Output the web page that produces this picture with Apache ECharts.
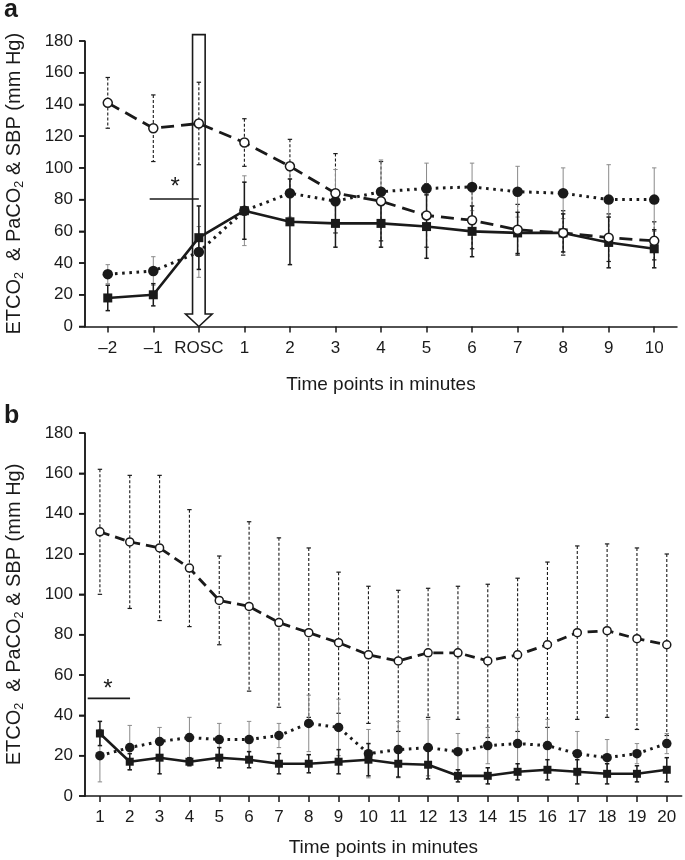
<!DOCTYPE html>
<html>
<head>
<meta charset="utf-8">
<script src="https://cdn.jsdelivr.net/npm/echarts@6.0.0/dist/echarts.min.js"></script>
<style>
html,body{margin:0;padding:0;background:#fff;}
#chart{width:685px;height:860px;}
</style>
</head>
<body>
<div id="chart"></div>
<script>
// ---------- Panel a data ----------
const catsA = ['–2','–1','ROSC','1','2','3','4','5','6','7','8','9','10'];
const sbpA = [141,125,128,116,101,84,79,70,67,61,59,56,54];
const sbpErrA = [16,21,26,15,17,25,25,20,18,16,14,15,12];
const paco2A = [33,35,47,73,84,79,85,87,88,85,84,80,80];
const paco2ErrA = [6,9,16,22,15,20,20,16,15,16,16,22,20];
const etco2A = [18,20,56,73,66,65,65,63,60,59,59,53,49];
const etco2ErrA = [8,7,20,18,27,15,15,20,16,13,12,16,12];
// annotations (panel a): significance bar [fromIndex, toIndex, value], asterisk [index, value], ROSC arrow [index, tip, top]
const sigLineA = [[0.92,2.0,80.4]];
const starA = [[1.48,87.6]];
const arrowA = [[2,0,184]];

// ---------- Panel b data ----------
const catsB = ['1','2','3','4','5','6','7','8','9','10','11','12','13','14','15','16','17','18','19','20'];
const sbpB = [131,126,123,113,97,94,86,81,76,70,67,71,71,67,70,75,81,82,78,75];
const sbpErrB = [31,33,36,29,22,42,42,42,35,34,35,32,33,38,38,41,43,43,45,45];
const paco2B = [20,24,27,29,28,28,30,36,34,21,23,24,22,25,26,25,21,19,21,26];
const paco2ErrB = [13,11,7,10,8,9,6,14,14,12,14,14,9,9,13,13,11,9,5,5];
const etco2B = [31,17,19,17,19,18,16,16,17,18,16,15.5,10,10,12,13,12,11,11,13];
const etco2ErrB = [6,4,8,2,5,4,5,4.5,6,8,6.6,7,3,4,4,5,6,5,4,6];
const sigLineB = [[-0.41,1.01,48.4]];
const starB = [[0.27,52.8]];

// y-axis tick values (both panels)
const yTicks = [0,20,40,60,80,100,120,140,160,180];

const FONT = "'Liberation Sans', Arial, sans-serif";
const INK = '#1a1a1a';

function fracCoord(api, idx, val){
  const p0 = api.coord([0, val]), p1 = api.coord([1, val]);
  return [p0[0] + idx*(p1[0]-p0[0]), p0[1]];
}
function errData(vals, errs){
  return vals.map((v,i)=>[i, v-errs[i], v+errs[i]]);
}
function errRender(cap, lineStyle, capStyle){
  return function(params, api){
    const x = api.value(0), lo = api.value(1), hi = api.value(2);
    const p1 = api.coord([x, hi]), p2 = api.coord([x, lo]);
    return {type:'group', children:[
      {type:'line', shape:{x1:p1[0],y1:p1[1],x2:p2[0],y2:p2[1]}, style:lineStyle},
      {type:'line', shape:{x1:p1[0]-cap,y1:p1[1],x2:p1[0]+cap,y2:p1[1]}, style:capStyle},
      {type:'line', shape:{x1:p2[0]-cap,y1:p2[1],x2:p2[0]+cap,y2:p2[1]}, style:capStyle}
    ]};
  };
}
function arrowRender(params, api){
  const x = api.value(0);
  const tip = api.coord([x, api.value(1)]);
  const top = api.coord([x, api.value(2)]);
  const sw = 6.3, hw = 13.3, hh = 12.5;
  const cx = tip[0];
  return {type:'polygon', shape:{points:[
    [cx-sw, top[1]], [cx+sw, top[1]], [cx+sw, tip[1]-hh], [cx+hw, tip[1]-hh],
    [cx, tip[1]], [cx-hw, tip[1]-hh], [cx-sw, tip[1]-hh]
  ]}, style:{fill:'#fff', stroke:INK, lineWidth:1.6}};
}
function sigRender(params, api){
  const a = fracCoord(api, api.value(0), api.value(2));
  const b = fracCoord(api, api.value(1), api.value(2));
  return {type:'line', shape:{x1:a[0], y1:a[1], x2:b[0], y2:b[1]}, style:{stroke:INK, lineWidth:1.6}};
}
function starRender(params, api){
  const p = fracCoord(api, api.value(0), api.value(1));
  return {type:'text', x:p[0], y:p[1], style:{text:'*', fontSize:24, fontFamily:FONT, fill:INK, align:'center', verticalAlign:'middle'}};
}

const yName = '{a|ETCO}{s|2}{a|  & PaCO}{s|2}{a| & SBP (mm Hg)}';
const yNameStyle = {
  rich:{
    a:{fontSize:20, fontFamily:FONT, color:INK, verticalAlign:'bottom', padding:[0,0,2,0]},
    s:{fontSize:12.5, fontFamily:FONT, color:INK, verticalAlign:'bottom'}
  }
};

function yAxisCfg(gi){
  return {
    gridIndex:gi, type:'value', min:0, max:180, interval:20, position:'left',
    name:yName, nameLocation:'middle', nameGap:59, nameTextStyle:yNameStyle,
    axisLine:{show:true, onZero:false, lineStyle:{color:INK, width:1.5}},
    axisTick:{show:true, length:6, lineStyle:{color:INK, width:1.5}},
    axisLabel:{fontSize:17, fontFamily:FONT, color:INK, margin:12},
    splitLine:{show:false}
  };
}
function xAxisCfg(gi, cats, gap){
  return {
    gridIndex:gi, type:'category', data:cats, boundaryGap:true, position:'bottom',
    name:'Time points in minutes', nameLocation:'middle', nameGap:gap,
    nameTextStyle:{fontSize:19, fontFamily:FONT, color:INK},
    axisLine:{show:true, onZero:false, lineStyle:{color:INK, width:1.5}},
    axisTick:{show:true, alignWithLabel:true, length:6, lineStyle:{color:INK, width:1.5}},
    axisLabel:{fontSize:17, fontFamily:FONT, color:INK, margin:13, interval:0},
    splitLine:{show:false}
  };
}

const dashBar = {stroke:INK, lineWidth:1.1, lineDash:[3,2]};
const dashCap = {stroke:INK, lineWidth:1.2};
const grayBar = {stroke:'#8a8a8a', lineWidth:1};
const grayCap = {stroke:'#8a8a8a', lineWidth:1};
const blackBar = {stroke:INK, lineWidth:1.5};
const blackCap = {stroke:INK, lineWidth:1.5};

function panelSeries(xi, yi, sbp, sbpErr, pa, paErr, et, etErr, sz, dash){
  return [
    {type:'custom', xAxisIndex:xi, yAxisIndex:yi, renderItem:errRender(2.2, dashBar, dashCap), data:errData(sbp,sbpErr), encode:{x:0,y:[1,2]}, z:2, silent:true},
    {type:'custom', xAxisIndex:xi, yAxisIndex:yi, renderItem:errRender(2.2, grayBar, grayCap), data:errData(pa,paErr), encode:{x:0,y:[1,2]}, z:2, silent:true},
    {type:'custom', xAxisIndex:xi, yAxisIndex:yi, renderItem:errRender(2.2, blackBar, blackCap), data:errData(et,etErr), encode:{x:0,y:[1,2]}, z:2, silent:true},
    {type:'line', xAxisIndex:xi, yAxisIndex:yi, data:pa, symbol:'circle', symbolSize:sz+1.5,
      lineStyle:{color:INK, width:3, type:[2.6,4.6]}, itemStyle:{color:INK}, z:3, animation:false},
    {type:'line', xAxisIndex:xi, yAxisIndex:yi, data:et, symbol:'rect', symbolSize:sz,
      lineStyle:{color:INK, width:2.6}, itemStyle:{color:INK}, z:4, animation:false},
    {type:'line', xAxisIndex:xi, yAxisIndex:yi, data:sbp, symbol:'circle', symbolSize:sz,
      lineStyle:{color:INK, width:2.8, type:dash}, itemStyle:{color:'#fff', borderColor:INK, borderWidth:1.5}, z:5, animation:false}
  ];
}
function annot(xi, yi, sig, star){
  return [
    {type:'custom', xAxisIndex:xi, yAxisIndex:yi, renderItem:sigRender, data:sig, encode:{y:2}, clip:false, z:6, silent:true},
    {type:'custom', xAxisIndex:xi, yAxisIndex:yi, renderItem:starRender, data:star, encode:{y:1}, clip:false, z:6, silent:true}
  ];
}

const chart = echarts.init(document.getElementById('chart'), null, {renderer:'canvas'});
const option = {
  backgroundColor:'#fff',
  animation:false,
  title:[
    {text:'a', left:4, top:-2, padding:0, textStyle:{fontSize:25, fontWeight:'bold', fontFamily:FONT, color:INK}},
    {text:'b', left:4, top:404, padding:0, textStyle:{fontSize:25, fontWeight:'bold', fontFamily:FONT, color:INK}}
  ],
  grid:[
    {left:85, top:41, width:592, height:285.5, containLabel:false, outerBoundsMode:'none'},
    {left:85, top:433, width:596.7, height:363, containLabel:false, outerBoundsMode:'none'}
  ],
  xAxis:[ xAxisCfg(0, catsA, 49), xAxisCfg(1, catsB, 42) ],
  yAxis:[ yAxisCfg(0), yAxisCfg(1) ],
  series:[
    {type:'custom', xAxisIndex:0, yAxisIndex:0, renderItem:arrowRender, data:arrowA, encode:{x:0,y:[1,2]}, clip:false, z:1, silent:true},
    ...panelSeries(0, 0, sbpA, sbpErrA, paco2A, paco2ErrA, etco2A, etco2ErrA, 9, [13,7]),
    ...panelSeries(1, 1, sbpB, sbpErrB, paco2B, paco2ErrB, etco2B, etco2ErrB, 8, [10,6]),
    ...annot(0, 0, sigLineA, starA),
    ...annot(1, 1, sigLineB, starB)
  ]
};
chart.setOption(option);

// y-axis line + outward ticks, placed through the library's own scales (grid left edge, tick values)
function yAxisGraphics(gridIndex){
  const els = [];
  const bottom = chart.convertToPixel({xAxisIndex:gridIndex, yAxisIndex:gridIndex}, [0, yTicks[0]]);
  const topP = chart.convertToPixel({xAxisIndex:gridIndex, yAxisIndex:gridIndex}, [0, yTicks[yTicks.length-1]]);
  const p1 = chart.convertToPixel({xAxisIndex:gridIndex, yAxisIndex:gridIndex}, [1, yTicks[0]]);
  const xLeft = bottom[0] - 0.5*(p1[0]-bottom[0]);
  els.push({type:'line', z:100, zlevel:2, silent:true,
    shape:{x1:xLeft, y1:bottom[1]+0.75, x2:xLeft, y2:topP[1]},
    style:{stroke:INK, lineWidth:1.5}});
  yTicks.forEach(t=>{
    const p = chart.convertToPixel({xAxisIndex:gridIndex, yAxisIndex:gridIndex}, [0, t]);
    els.push({type:'line', z:100, zlevel:2, silent:true,
      shape:{x1:xLeft-6, y1:p[1], x2:xLeft, y2:p[1]},
      style:{stroke:INK, lineWidth:1.5}});
  });
  return els;
}
chart.setOption({graphic: yAxisGraphics(0).concat(yAxisGraphics(1))});
</script>
</body>
</html>
